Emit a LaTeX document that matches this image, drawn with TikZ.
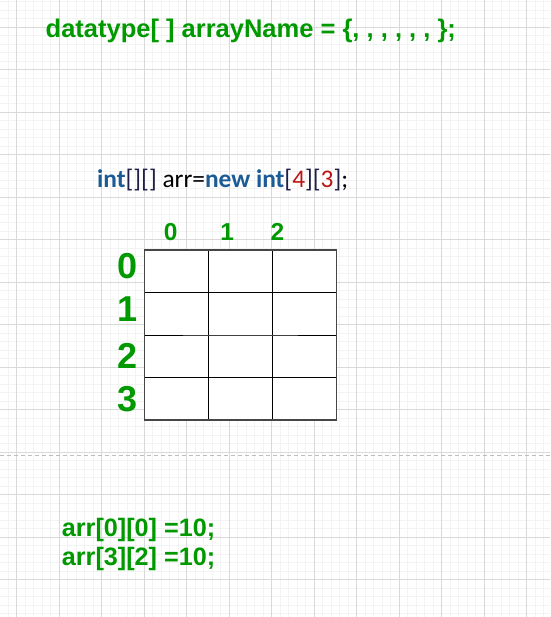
\documentclass[tikz,border=0pt]{standalone}
\usepackage{fontspec}
\newfontfamily\arialfont{Liberation Sans}
\newfontfamily\calfont{Carlito}
\definecolor{codegreen}{RGB}{0,153,0}
\definecolor{kwblue}{RGB}{28,92,150}
\definecolor{brnavy}{RGB}{30,30,70}
\definecolor{numred}{RGB}{190,20,20}
\definecolor{minorgrid}{RGB}{243,243,243}
\definecolor{majorgrid}{RGB}{217,217,217}
\definecolor{dashgray}{RGB}{190,190,190}
\definecolor{bordergray}{RGB}{70,70,70}
\tikzset{
  minorline/.style={draw=minorgrid, line width=0.8pt},
  majorline/.style={draw=majorgrid, line width=0.9pt},
  greentext/.style={inner sep=0, text=codegreen, font=\arialfont\bfseries},
  codetext/.style={inner sep=0, font=\calfont},
  innerline/.style={draw=black, line width=1pt},
  outerline/.style={draw=bordergray, line width=1.4pt},
}
\begin{document}
\begin{tikzpicture}[x=1pt,y=-1pt]
\useasboundingbox (0,0) rectangle (550,617);
\fill[white] (0,0) rectangle (550,617);
% minor grid
\foreach \k in {-2,...,63} { \draw[minorline] ({16.5+8.5*\k},0) -- ({16.5+8.5*\k},617); }
\foreach \k in {-3,...,69} { \draw[minorline] (0,{27.3+8.5*\k}) -- (550,{27.3+8.5*\k}); }
% major grid
\foreach \k in {0,...,12} { \draw[majorline] ({16.5+42.5*\k},0) -- ({16.5+42.5*\k},617); }
\foreach \k in {0,...,13} { \draw[majorline] (0,{27.3+42.5*\k}) -- (550,{27.3+42.5*\k}); }
% dashed separator
\coordinate (sepL) at (0,455.6);
\coordinate (sepR) at (550,455.6);
\draw[dashgray, line width=1.2pt, dash pattern=on 4pt off 3pt] (sepL) -- (sepR);

% top declaration
\node[greentext, anchor=base west, font=\arialfont\bfseries\fontsize{25.5}{30}\selectfont] (decl) at (45.5,38)
  {datatype[ ] arrayName = \{, , , , , , \};};

% code line
\node[codetext, anchor=base west, font=\calfont\fontsize{25.4}{30}\selectfont] (code) at (97,187.3)
  {{\bfseries\color{kwblue}int}{\color{brnavy}[][]} arr={\bfseries\color{kwblue}new} {\bfseries\color{kwblue}int}{\color{brnavy}[}{\color{numred}4}{\color{brnavy}][}{\color{numred}3}{\color{brnavy}]};};

% column labels
\node[greentext, anchor=base, font=\arialfont\bfseries\fontsize{24.5}{28}\selectfont] (col0) at (170.8,240.5) {0};
\node[greentext, anchor=base, font=\arialfont\bfseries\fontsize{24.5}{28}\selectfont] (col1) at (227.2,240.5) {1};
\node[greentext, anchor=base, font=\arialfont\bfseries\fontsize{24.5}{28}\selectfont] (col2) at (277.5,240.5) {2};

% row labels
\node[greentext, anchor=base, font=\arialfont\bfseries\fontsize{36}{40}\selectfont] (row0) at (127.5,278) {0};
\node[greentext, anchor=base, font=\arialfont\bfseries\fontsize{36}{40}\selectfont] (row1) at (127.5,321.5) {1};
\node[greentext, anchor=base, font=\arialfont\bfseries\fontsize{36}{40}\selectfont] (row2) at (127.5,368.5) {2};
\node[greentext, anchor=base, font=\arialfont\bfseries\fontsize{36}{40}\selectfont] (row3) at (127.5,411.5) {3};

% table
\fill[white] (144.3,250) rectangle (336.3,420);
\draw[innerline] (208.3,250) -- (208.3,420);
\draw[innerline] (272.3,250) -- (272.3,420);
\draw[innerline] (144.3,292.3) -- (336.3,292.3);
\draw[innerline] (144.3,335.4) -- (182.7,335.4);
\draw[draw=black!75, line width=1.1pt] (182.7,335.4) -- (297.7,335.4);
\draw[innerline] (297.7,335.4) -- (336.3,335.4);
\draw[innerline] (144.3,377.3) -- (336.3,377.3);
\draw[outerline] (144.3,250) rectangle (336.3,420);

% assignments
\node[greentext, anchor=base west, font=\arialfont\bfseries\fontsize{25.2}{28}\selectfont] (as1) at (61.7,536.7) {arr[0][0] =10;};
\node[greentext, anchor=base west, font=\arialfont\bfseries\fontsize{25.2}{28}\selectfont] (as2) at (61.7,565) {arr[3][2] =10;};
\end{tikzpicture}
\end{document}
